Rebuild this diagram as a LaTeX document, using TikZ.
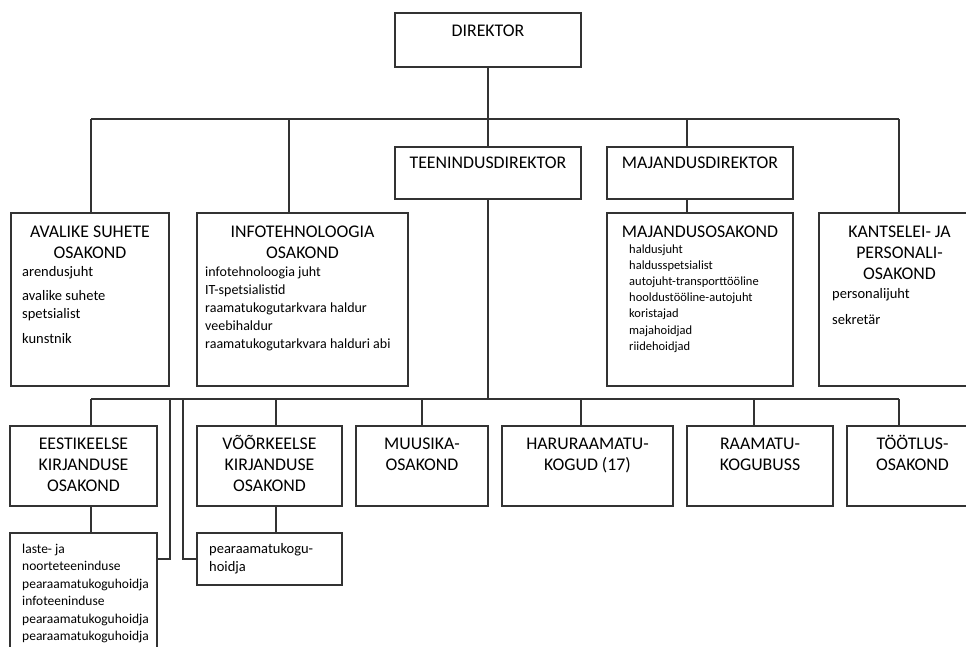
\documentclass[tikz,border=0pt]{standalone}
\usepackage{fontspec}
\setmainfont{Carlito}
\usepackage{tikz}
\usetikzlibrary{positioning,calc}

\begin{document}
\begin{tikzpicture}[
  x=1pt, y=-1pt,
  unit/.style={draw=black!80, line width=1.1pt, inner sep=0pt},
  title/.style={font=\fontsize{17.8}{21}\selectfont, align=center, anchor=base, inner sep=0pt},
  duty/.style={font=\fontsize{14.5}{18}\selectfont, align=left, anchor=base west, inner sep=0pt},
  link/.style={draw=black!80, line width=1.1pt}
]
\clip (0,0) rectangle (966,647);

% Boxes, top
\node[unit, minimum width=186pt, minimum height=54pt] (dir) at (488,40) {};
\node[unit, minimum width=186pt, minimum height=52pt] (teen) at (488,173) {};
\node[unit, minimum width=186pt, minimum height=52pt] (majdir) at (700,173) {};

% Boxes, departments
\node[unit, minimum width=158pt, minimum height=173pt] (avs) at (90,299.5) {};
\node[unit, minimum width=211pt, minimum height=173pt] (info) at (302.5,299.5) {};
\node[unit, minimum width=186pt, minimum height=173pt] (majos) at (700,299.5) {};
\node[unit, minimum width=161pt, minimum height=173pt] (kant) at (899.5,299.5) {};

% Boxes, service units
\node[unit, minimum width=147pt, minimum height=80pt] (eesti) at (83.5,466) {};
\node[unit, minimum width=145pt, minimum height=80pt] (voor) at (269.5,466) {};
\node[unit, minimum width=132pt, minimum height=80pt] (muus) at (422,466) {};
\node[unit, minimum width=171pt, minimum height=80pt] (haru) at (587.5,466) {};
\node[unit, minimum width=146pt, minimum height=80pt] (raam) at (760,466) {};
\node[unit, minimum width=131pt, minimum height=80pt] (toot) at (912.5,466) {};

% Boxes, staff
\node[unit, minimum width=147pt, minimum height=132pt] (eestiS) at (83.5,599) {};
\node[unit, minimum width=145pt, minimum height=52pt] (voorS) at (269.5,559) {};

% Titles (placed at the baseline of their last line)
\node[title] (dirT) at (488,36.5) {DIREKTOR};
\node[title] (teenT) at (488,168.5) {TEENINDUSDIREKTOR};
\node[title] (majdirT) at (700,168.5) {MAJANDUSDIREKTOR};
\node[title] (avsT) at (90,258.5) {AVALIKE SUHETE\\OSAKOND};
\node[title] (infoT) at (302.5,258.5) {INFOTEHNOLOOGIA\\OSAKOND};
\node[title] (majosT) at (700,237.5) {MAJANDUSOSAKOND};
\node[title] (kantT) at (899.5,279.5) {KANTSELEI- JA\\PERSONALI-\\OSAKOND};
\node[title] (eestiT) at (83.5,491.5) {EESTIKEELSE\\KIRJANDUSE\\OSAKOND};
\node[title] (voorT) at (269.5,491.5) {VÕÕRKEELSE\\KIRJANDUSE\\OSAKOND};
\node[title] (muusT) at (422,470.5) {MUUSIKA-\\OSAKOND};
\node[title] (haruT) at (587.5,470.5) {HARURAAMATU-\\KOGUD (17)};
\node[title] (raamT) at (760,470.5) {RAAMATU-\\KOGUBUSS};
\node[title] (tootT) at (912.5,470.5) {TÖÖTLUS-\\OSAKOND};

% Staff lists
\node[duty] (avsL) at (22,343.6) {arendusjuht\\[6.8pt]avalike suhete\\spetsialist\\[6.8pt]kunstnik};
\node[duty, font=\fontsize{14}{18}\selectfont] (infoL) at (205,348) {infotehnoloogia juht\\IT-spetsialistid\\raamatukogutarkvara haldur\\veebihaldur\\raamatukogutarkvara halduri abi};
\node[duty, font=\fontsize{12.5}{16.2}\selectfont] (majosL) at (629,350.2) {haldusjuht\\haldusspetsialist\\autojuht-transporttööline\\hooldustööline-autojuht\\koristajad\\majahoidjad\\riidehoidjad};
\node[duty] (kantL) at (832,324) {personalijuht\\[8pt]sekretär};
\node[duty, font=\fontsize{13.5}{17.5}\selectfont] (eestiL) at (22,640.5) {laste- ja\\noorteteeninduse\\pearaamatukoguhoidja\\infoteeninduse\\pearaamatukoguhoidja\\pearaamatukoguhoidja};
\node[duty] (voorL) at (209,571) {pearaamatukogu-\\hoidja};

% Connectors, top level
\coordinate (topL) at (91,119);
\coordinate (topR) at (899,119);
\coordinate (jInfo) at (289,119);
\coordinate (jMaj) at (687,119);
\draw[link] (dir) -- (teen);
\draw[link] (topL) -- (topR);
\draw[link] (topL) -- (topL |- avs.north);
\draw[link] (jInfo) -- (jInfo |- info.north);
\draw[link] (jMaj) -- (jMaj |- majdir.north);
\draw[link] (jMaj |- majdir.south) -- (jMaj |- majos.north);
\draw[link] (topR) -- (topR |- kant.north);

% Connectors, service units
\coordinate (botL) at (91,399);
\coordinate (botR) at (899,399);
\coordinate (jVoor) at (276,399);
\coordinate (jE) at (170,399);
\coordinate (jV) at (183,399);
\draw[link] (teen) -- (teen |- botL);
\draw[link] (botL) -- (botR);
\draw[link] (botL) -- (botL |- eesti.north);
\draw[link] (jVoor) -- (jVoor |- voor.north);
\foreach \x/\n in {422/muus, 581/haru, 754/raam, 899/toot}{
  \coordinate (d) at (\x,399);
  \draw[link] (d) -- (d |- \n.north);
}
\draw[link] (botL |- eesti.south) -- (botL |- eestiS.north);
\draw[link] (jVoor |- voor.south) -- (jVoor |- voorS.north);
\draw[link] (jE) |- (voorS.west -| eestiS.east);
\draw[link] (jV) |- (voorS.west);
\end{tikzpicture}
\end{document}
